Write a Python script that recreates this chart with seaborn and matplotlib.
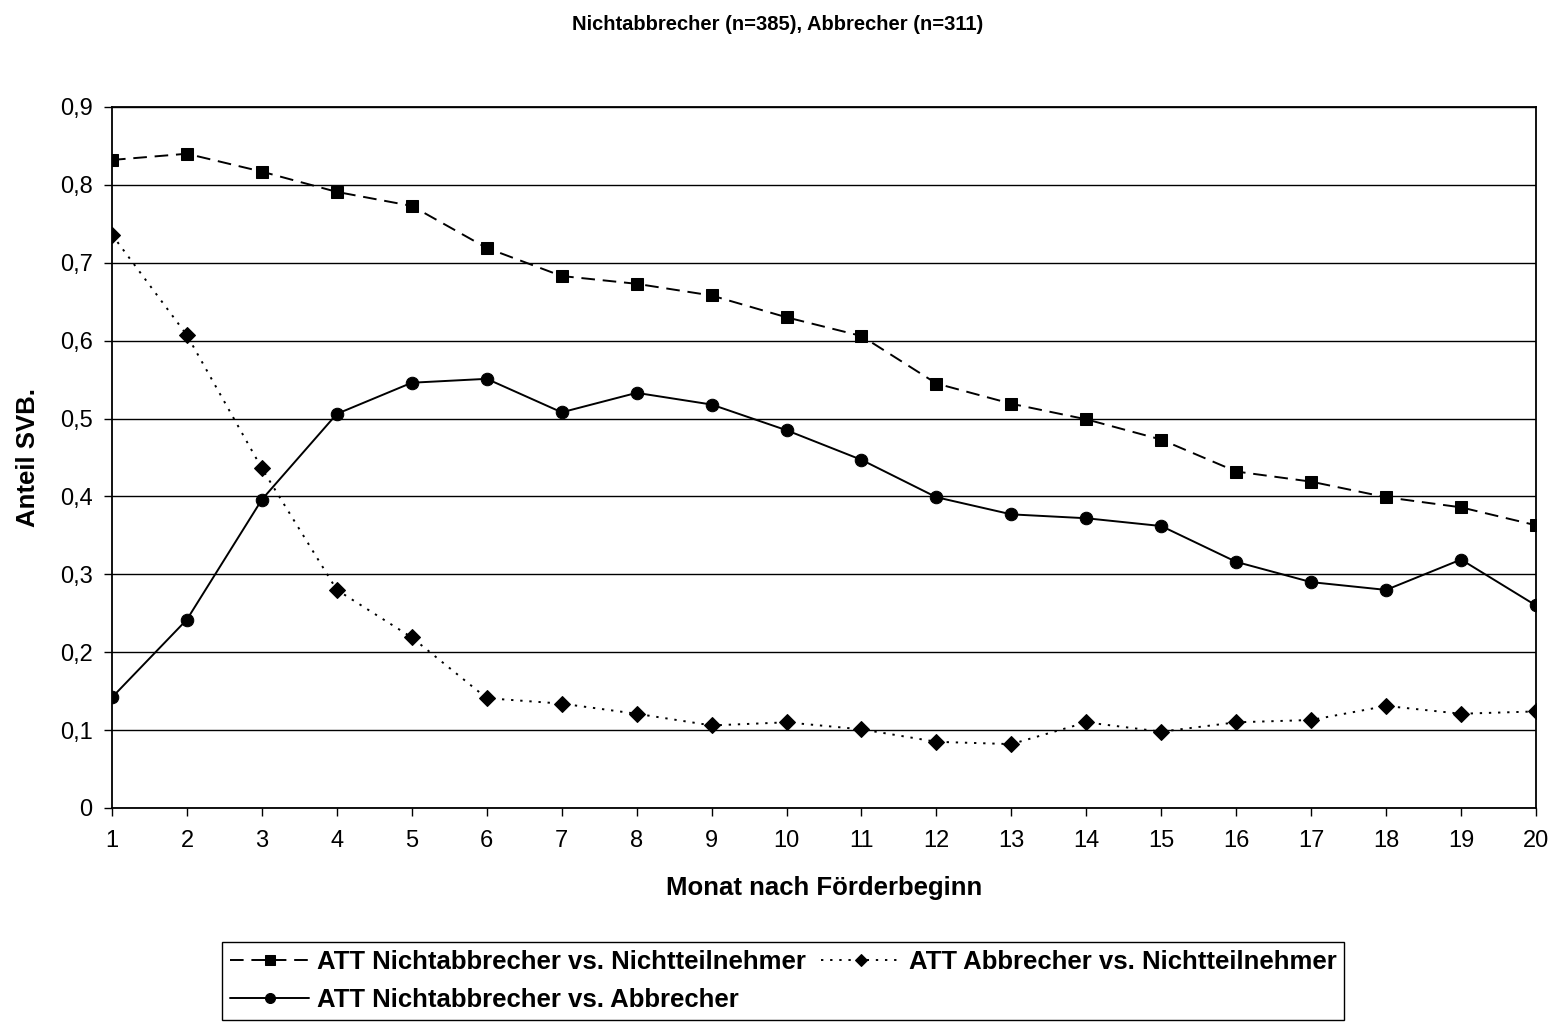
import numpy as np
import pandas as pd
import matplotlib
matplotlib.use("Agg")
import matplotlib.pyplot as plt
import seaborn as sns

# Values
months = list(range(1, 21))
nichtabbr_vs_nichtteil = [0.832, 0.840, 0.817, 0.791, 0.773, 0.719, 0.683, 0.673, 0.658, 0.630,
                          0.606, 0.545, 0.519, 0.499, 0.473, 0.432, 0.419, 0.399, 0.386, 0.363]
abbr_vs_nichtteil = [0.736, 0.607, 0.436, 0.280, 0.219, 0.141, 0.134, 0.121, 0.106, 0.110,
                     0.101, 0.085, 0.082, 0.110, 0.098, 0.110, 0.113, 0.131, 0.121, 0.124]
nichtabbr_vs_abbr = [0.142, 0.242, 0.396, 0.506, 0.546, 0.551, 0.508, 0.533, 0.518, 0.485,
                     0.447, 0.399, 0.377, 0.372, 0.362, 0.316, 0.290, 0.280, 0.319, 0.260]
y_ticks = [0.0, 0.1, 0.2, 0.3, 0.4, 0.5, 0.6, 0.7, 0.8, 0.9]
y_ticklabels = ["0", "0,1", "0,2", "0,3", "0,4", "0,5", "0,6", "0,7", "0,8", "0,9"]

sns.set_style("white", {"xtick.bottom": True, "ytick.left": True})
plt.rcParams['font.family'] = ['Liberation Sans', 'DejaVu Sans']
plt.rcParams.update({"text.color": "black", "axes.labelcolor": "black",
                     "xtick.color": "black", "ytick.color": "black"})

fig = plt.figure(figsize=(15.56, 10.26), dpi=100)
ax = fig.add_axes([112 / 1556, 1 - 808 / 1026, (1536 - 112) / 1556, (808 - 107) / 1026])

sns.lineplot(x=months, y=nichtabbr_vs_nichtteil, ax=ax, color="black", linewidth=1.4,
             marker="s", markersize=9, markeredgecolor="black",
             label="ATT Nichtabbrecher vs. Nichtteilnehmer")
ax.lines[-1].set_dashes([7, 4])
sns.lineplot(x=months, y=abbr_vs_nichtteil, ax=ax, color="black", linewidth=1.4,
             marker="D", markersize=8, markeredgecolor="black",
             label="ATT Abbrecher vs. Nichtteilnehmer")
ax.lines[-1].set_dashes([1.2, 3.5])
sns.lineplot(x=months, y=nichtabbr_vs_abbr, ax=ax, color="black", linewidth=1.4,
             marker="o", markersize=9, markeredgecolor="black",
             label="ATT Nichtabbrecher vs. Abbrecher")

ax.set_xlim(1, 20)
ax.set_ylim(0, 0.9)
ax.set_xticks(months)
ax.set_xticklabels([str(m) for m in months], fontsize=17)
ax.set_yticks(y_ticks)
ax.set_yticklabels(y_ticklabels, fontsize=17)
ax.tick_params(axis="x", direction="out", length=6, width=1, pad=10)
ax.tick_params(axis="y", direction="out", length=6, width=1, pad=8)
ax.yaxis.grid(True, color="black", linewidth=1)
ax.set_axisbelow(True)
for s in ax.spines.values():
    s.set_color("black")
    s.set_linewidth(1.3)

ax.set_xlabel("Monat nach Förderbeginn", fontsize=18.5, fontweight="bold", labelpad=17)
ax.set_ylabel("Anteil SVB.", fontsize=18.5, fontweight="bold", labelpad=14)
fig.text(0.5, 1 - 24 / 1026, "Nichtabbrecher (n=385), Abbrecher (n=311)",
         ha="center", va="center", fontsize=14.5, fontweight="bold")

h, l = ax.get_legend_handles_labels()
ax.get_legend().remove()
order = [0, 2, 1]
leg = fig.legend([h[i] for i in order], [l[i] for i in order], ncol=2,
                 loc="upper left", bbox_to_anchor=(222 / 1556, 1 - 942 / 1026),
                 borderaxespad=0, frameon=True, fancybox=False, edgecolor="black",
                 framealpha=1, prop={"size": 18.5, "weight": "bold"}, handlelength=3.1,
                 handletextpad=0.3, columnspacing=0.6, borderpad=0.3, labelspacing=0.55,
                 markerscale=0.8)
leg.get_frame().set_linewidth(1)

fig.savefig("out.png", dpi=100)
